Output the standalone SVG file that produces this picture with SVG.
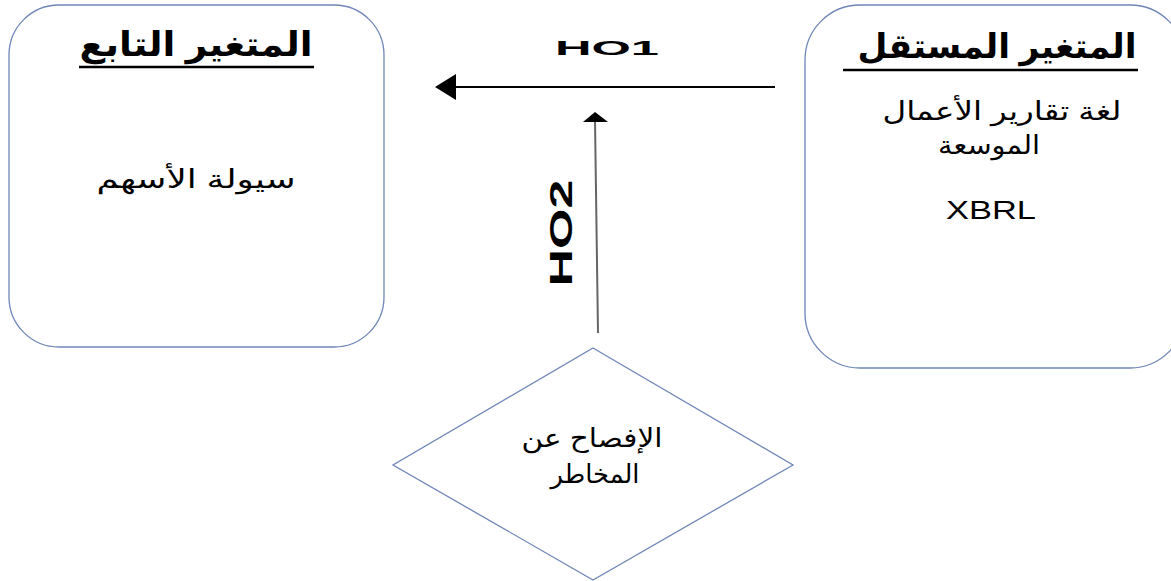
<svg xmlns="http://www.w3.org/2000/svg" width="1171" height="581" viewBox="0 0 1171 581">
<style>
.box{fill:#fff;stroke:#6f86b8;stroke-width:1.3}
.title{font-family:"Liberation Sans","DejaVu Sans",sans-serif;font-weight:bold;font-size:34px;fill:#000;text-anchor:middle}
.uline{stroke:#000;stroke-width:2.5}
.txt{font-family:"Liberation Sans","DejaVu Sans",sans-serif;font-size:26px;fill:#000;text-anchor:middle}
.lbl{font-family:"Liberation Sans","DejaVu Sans",sans-serif;font-weight:bold;fill:#000;text-anchor:middle}
.conn{stroke:#000;stroke-width:2;fill:none}
</style>
<rect width="1171" height="581" fill="#fff"/>
<g id="dependent">
<rect class="box" x="9" y="5" width="375" height="342" rx="50" ry="50"/>
<text class="title" x="196" y="56" direction="rtl" textLength="233" lengthAdjust="spacingAndGlyphs">المتغير التابع</text>
<line class="uline" x1="79" y1="67" x2="314" y2="67"/>
<text class="txt" x="196" y="188" font-size="28" direction="rtl" textLength="199" lengthAdjust="spacingAndGlyphs">سيولة الأسهم</text>
</g>
<g id="independent">
<rect class="box" x="805" y="5" width="380" height="363" rx="55" ry="55"/>
<text class="title" x="997" y="58" direction="rtl" textLength="279" lengthAdjust="spacingAndGlyphs">المتغير المستقل</text>
<line class="uline" x1="843" y1="70" x2="1138" y2="70"/>
<text class="txt" x="1002" y="120" direction="rtl" textLength="239" lengthAdjust="spacingAndGlyphs">لغة تقارير الأعمال</text>
<text class="txt" x="989" y="154" direction="rtl" textLength="102" lengthAdjust="spacingAndGlyphs">الموسعة</text>
<text class="txt" x="991" y="219" font-size="28" textLength="90" lengthAdjust="spacingAndGlyphs">XBRL</text>
</g>
<g id="moderator">
<polygon class="box" points="593,348 793,465 593,580 393,465"/>
<text class="txt" x="592" y="447" direction="rtl" textLength="141" lengthAdjust="spacingAndGlyphs">الإفصاح عن</text>
<text class="txt" x="595" y="483" direction="rtl" textLength="89" lengthAdjust="spacingAndGlyphs">المخاطر</text>
</g>
<g id="connectors">
<line class="conn" x1="775" y1="87" x2="455" y2="87"/>
<polygon points="435,87 456,74 456,100" fill="#000"/>
<text class="lbl" x="607" y="55" font-size="20" textLength="104" lengthAdjust="spacingAndGlyphs">HO1</text>
<line x1="598" y1="333" x2="595" y2="120" stroke="#666" stroke-width="2"/>
<polygon points="595,112 583,122 608,122" fill="#000"/>
<text class="lbl" transform="translate(572,233) rotate(-90)" x="0" y="0" font-size="31" textLength="107" lengthAdjust="spacingAndGlyphs">HO2</text>
</g>
</svg>
